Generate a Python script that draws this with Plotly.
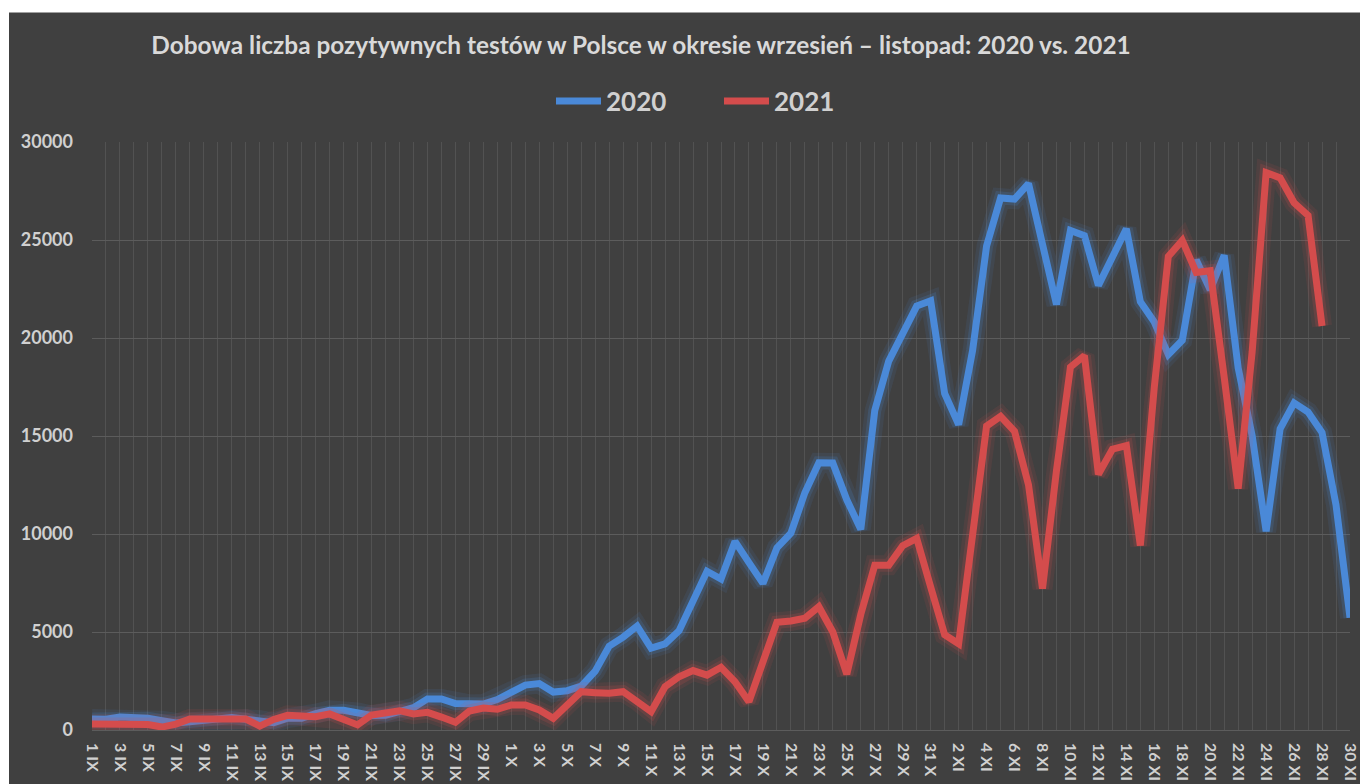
import plotly.graph_objects as go

# ---- data ----
month_names = ["IX", "X", "XI"]
month_days = [30, 31, 30]
categories = [f"{d} {m}" for m, n in zip(month_names, month_days) for d in range(1, n + 1)]

cases_2020 = [555, 549, 661, 624, 598, 471, 357, 426, 495, 601,
              640, 546, 504, 377, 600, 603, 834, 1002, 1002, 900,
              744, 752, 974, 1136, 1587, 1584, 1350, 1306, 1326, 1552,
              1967, 2292, 2367, 1934, 2006, 2236, 3003, 4280, 4739, 5300,
              4178, 4394, 5068, 6526, 8099, 7705, 9622, 8536, 7482, 9291,
              10040, 12107, 13632, 13628, 11742, 10241, 16300, 18820, 20156, 21629,
              21897,
              17171, 15578, 19364, 24692, 27143, 27086, 27875, 24785, 21713, 25484,
              25221, 22683, 24051, 25571, 21854, 20816, 19152, 19883, 23975, 22464,
              24213, 18467, 15002, 10139, 15362, 16687, 16220, 15178, 11483, 5733]

cases_2021 = [300, 290, 290, 310, 275, 150, 300, 560, 540, 540,
              560, 560, 200, 540, 750, 720, 680, 820, 540, 260,
              765, 885, 985, 816, 900, 660, 390, 970, 1120, 1055,
              1275, 1275, 1020, 595, 1300, 1955, 1905, 1870, 1955, 1497,
              935, 2210, 2720, 3030, 2800, 3200, 2465, 1445, 3600, 5500,
              5560, 5700, 6290, 5000, 2850, 5900, 8405, 8405, 9400, 9780,
              7300,
              4857, 4402, 9955, 15508, 16000, 15237, 12505, 7220, 13230, 18515,
              19100, 13050, 14325, 14510, 9410, 17500, 24160, 24980, 23340, 23430,
              18000, 12320, 19300, 28440, 28170, 26900, 26250, 20610]

series_names = ["2020", "2021"]
series_values = [cases_2020, cases_2021]
series_colors = ["74,137,216", "212,76,76"]

y_ticks = [0, 5000, 10000, 15000, 20000, 25000, 30000]

# ---- figure ----
fig = go.Figure()
for name, vals, rgb in zip(series_names, series_values, series_colors):
    xs = list(range(len(vals)))
    for w, a in [(20, 0.10), (13, 0.18)]:
        fig.add_trace(go.Scatter(x=xs, y=vals, mode="lines", showlegend=False, hoverinfo="skip",
                                 line=dict(color=f"rgba({rgb},{a})", width=w)))
    fig.add_trace(go.Scatter(x=xs, y=vals, mode="lines", name=name,
                             line=dict(color=f"rgb({rgb})", width=7)))

ticktext = [c if i % 2 == 0 else "" for i, c in enumerate(categories)]

W, H = 1360, 784
ml, mr, mt, mb = 92, 10, 142, 54
pw, ph = W - ml - mr, H - mt - mb


def px_to_paper_x(px):
    return (px - ml) / pw


def px_to_paper_y(py):
    return (H - mb - py) / ph


fig.update_layout(
    width=W, height=H,
    paper_bgcolor="#404040", plot_bgcolor="#404040",
    margin=dict(l=ml, r=mr, t=mt, b=mb, autoexpand=False),
    font=dict(family="Lato, 'Open Sans', sans-serif", color="#d9d9d9"),
    title=dict(text="Dobowa liczba pozytywnych testów w Polsce w okresie wrzesień – listopad: 2020 vs. 2021",
               x=641 / W, xref="container", xanchor="center",
               y=1 - 45 / H, yref="container", yanchor="middle",
               font=dict(size=24.4, color="#d9d9d9", weight="bold")),
    legend=dict(orientation="h", x=px_to_paper_x(551), xanchor="left",
                y=px_to_paper_y(101), yanchor="middle",
                font=dict(size=26, color="#d0d0d0", weight="bold"),
                bgcolor="rgba(0,0,0,0)", entrywidth=108, itemwidth=45),
    xaxis=dict(range=[0, len(categories) - 1], tickvals=list(range(len(categories))), ticktext=ticktext,
               tickangle=90, showgrid=True, gridcolor="#525252", gridwidth=1,
               zeroline=False, showline=False, ticks="", ticklabelstandoff=12, automargin=False,
               ticklabeloverflow="allow",
               tickfont=dict(size=16, color="#d0d0d0", weight="bold")),
    yaxis=dict(range=[0, 30000], tickvals=y_ticks, tickformat="d",
               showgrid=True, gridcolor="#5c5c5c", gridwidth=1.3,
               zeroline=True, zerolinecolor="#5c5c5c", zerolinewidth=1.3,
               showline=False, ticks="", ticklabelstandoff=18, automargin=False,
               tickfont=dict(size=18, color="#d0d0d0", weight="bold")),
    shapes=[
        dict(type="rect", xref="paper", yref="paper", layer="above", line=dict(width=0), fillcolor="white",
             x0=px_to_paper_x(0), x1=px_to_paper_x(W), y0=px_to_paper_y(12.5), y1=px_to_paper_y(0)),
        dict(type="rect", xref="paper", yref="paper", layer="above", line=dict(width=0), fillcolor="white",
             x0=px_to_paper_x(0), x1=px_to_paper_x(9), y0=px_to_paper_y(H), y1=px_to_paper_y(0)),
    ],
)

fig.write_html("out.html", config={"displayModeBar": False},
               post_script="document.body.style.margin='0';")
